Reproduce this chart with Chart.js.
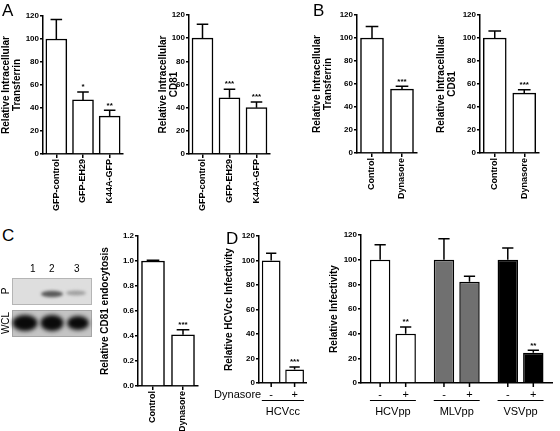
<!DOCTYPE html>
<html><head><meta charset="utf-8">
<script src="https://cdn.jsdelivr.net/npm/chart.js@4/dist/chart.umd.min.js"></script>
<style>
html,body{margin:0;padding:0;background:#fff;}
#wrap{position:relative;width:560px;height:431px;overflow:hidden;background:#fff;font-family:'Liberation Sans',Arial,sans-serif;color:#000;}
canvas{position:absolute;}
.t{position:absolute;line-height:1;white-space:nowrap;}
.r{position:absolute;line-height:1;white-space:nowrap;transform:translate(-50%,-50%) rotate(-90deg);}
</style></head><body><div id="wrap">
<canvas id="blot" style="left:0;top:255px" width="100" height="90"></canvas>
<canvas id="cA1"></canvas><canvas id="cA2"></canvas>
<canvas id="cB1"></canvas><canvas id="cB2"></canvas>
<canvas id="cC"></canvas><canvas id="cD1"></canvas><canvas id="cD2"></canvas>
<div class="t" style="left:2px;top:2px;font-size:17px">A</div>
<div class="t" style="left:313px;top:2px;font-size:17px">B</div>
<div class="t" style="left:2px;top:227px;font-size:17px">C</div>
<div class="t" style="left:226px;top:230px;font-size:17px">D</div>
<div class="t" style="left:30px;top:264px;font-size:10px">1</div>
<div class="t" style="left:49px;top:264px;font-size:10px">2</div>
<div class="t" style="left:74px;top:264px;font-size:10px">3</div>
<div class="r" style="left:6px;top:291px;font-size:10px">P</div>
<div class="r" style="left:6px;top:323px;font-size:10px">WCL</div>
</div>
<script>
// ---------- data ----------
const catsA = ['GFP-control', 'GFP-EH29', 'K44A-GFP'];
const transferrinA = [100, 47, 33];
const transferrinA_sem = [17, 7, 5];
const transferrinA_sig = ['', '*', '**'];
const cd81A = [100, 48.5, 40];
const cd81A_sem = [12, 7.5, 5];
const cd81A_sig = ['', '***', '***'];

const catsB = ['Control', 'Dynasore'];
const transferrinB = [100, 55.5];
const transferrinB_sem = [10, 2.5];
const cd81B = [100, 52];
const cd81B_sem = [6, 3];
const sigB = ['', '***'];

const catsC = ['Control', 'Dynasore'];
const endoC = [1.0, 0.41];
const endoC_sem = [0.006, 0.04];
const sigC = ['', '***'];

const groupsD1 = ['HCVcc'];
const hcvccMinus = [100];
const hcvccMinus_sem = [6];
const hcvccPlus = [11];
const hcvccPlus_sem = [2];
const hcvccPlus_sig = ['***'];

const groupsD2 = ['HCVpp', 'MLVpp', 'VSVpp'];
const ppMinus = [100, 100, 100];
const ppMinus_sem = [12, 17, 9.5];
const ppPlus = [40, 82, 24.5];
const ppPlus_sem = [5.5, 4.5, 2];
const ppPlus_sig = ['**', '', '**'];

const yTicks120 = [0, 20, 40, 60, 80, 100, 120];
const yTicksC = [0, 0.2, 0.4, 0.6, 0.8, 1.0, 1.2];

// ---------- style ----------
const FONT = "'Liberation Sans', Arial, sans-serif";
const BLACK = '#000';

const errPlugin = {
  id: 'errbars',
  afterDatasetsDraw(chart) {
    const ctx = chart.ctx, ys = chart.scales.y;
    chart.data.datasets.forEach((ds, d) => {
      chart.getDatasetMeta(d).data.forEach((bar, i) => {
        const v = ds.data[i], e = ds.sem ? ds.sem[i] : 0;
        const yTop = ys.getPixelForValue(v), yE = ys.getPixelForValue(v + e);
        const cap = bar.width * 0.55;
        ctx.save();
        ctx.strokeStyle = BLACK; ctx.lineWidth = 1.5;
        ctx.beginPath();
        ctx.moveTo(bar.x, yTop); ctx.lineTo(bar.x, yE);
        ctx.moveTo(bar.x - cap / 2, yE); ctx.lineTo(bar.x + cap / 2, yE);
        ctx.stroke();
        const s = ds.sig ? ds.sig[i] : '';
        if (s) {
          ctx.fillStyle = BLACK; ctx.font = 'bold 8px ' + FONT;
          ctx.textAlign = 'center'; ctx.textBaseline = 'bottom';
          ctx.fillText(s, bar.x, yE - 1);
        }
        ctx.restore();
      });
    });
  }
};

const groupPlugin = {
  id: 'groupdeco',
  afterDraw(chart, args, opts) {
    if (!opts || !opts.on) return;
    const ctx = chart.ctx, xs = chart.scales.x, y0 = xs.top;
    ctx.save();
    ctx.strokeStyle = BLACK; ctx.fillStyle = BLACK;
    const metas = chart.data.datasets.map((ds, d) => chart.getDatasetMeta(d).data);
    chart.data.datasets.forEach((ds, d) => {
      metas[d].forEach(bar => {
        ctx.lineWidth = 1.5;
        ctx.beginPath(); ctx.moveTo(bar.x, y0); ctx.lineTo(bar.x, y0 + 4); ctx.stroke();
        ctx.font = '11px ' + FONT; ctx.textAlign = 'center'; ctx.textBaseline = 'middle';
        ctx.fillText(ds.label, bar.x, y0 + opts.signY);
      });
    });
    const first = metas[0], last = metas[metas.length - 1];
    first.forEach((b, i) => {
      const e = last[i];
      ctx.lineWidth = 1;
      ctx.beginPath();
      ctx.moveTo(b.x - b.width / 2, y0 + opts.lineY + 0.5);
      ctx.lineTo(e.x + e.width / 2, y0 + opts.lineY + 0.5);
      ctx.stroke();
    });
    if (opts.rowLabel) {
      ctx.font = '11px ' + FONT; ctx.textAlign = 'right'; ctx.textBaseline = 'middle';
      ctx.fillText(opts.rowLabel, first[0].x - 10, y0 + opts.signY);
    }
    ctx.restore();
  }
};

function place(id, g) {
  const c = document.getElementById(id);
  const cl = g.sl - g.padL, ct = g.T - 8;
  c.style.left = cl + 'px'; c.style.top = ct + 'px';
  c.width = g.R - cl + g.padR; c.height = g.bottom - ct;
  return {c, padding: {left: g.padL, top: 8, right: g.padR, bottom: 0}, yW: g.L - g.sl, xH: g.bottom - g.B};
}

function yScale(p, max, ticks, title, fmt) {
  return {
    min: 0, max: max,
    afterBuildTicks: s => { s.ticks = ticks.map(v => ({value: v})); },
    ticks: {color: BLACK, font: {family: FONT, size: 8, weight: 'bold'}, padding: 1,
            callback: fmt || (v => String(v))},
    grid: {drawOnChartArea: false, color: BLACK, lineWidth: 1.5, tickLength: 3},
    border: {color: BLACK, width: 1.5},
    title: {display: true, text: title, color: BLACK, padding: 0,
            font: {family: FONT, size: 10, weight: 'bold', lineHeight: 1.15}},
    afterFit: s => { s.width = p.yW; }
  };
}

function catChart(id, g, cats, vals, sem, sig, max, ticks, title, barW, fmt) {
  const p = place(id, g);
  return new Chart(p.c, {
    type: 'bar',
    data: {labels: cats, datasets: [{data: vals, sem: sem, sig: sig,
      backgroundColor: '#fff', borderColor: BLACK, borderWidth: 1.5, barThickness: barW}]},
    options: {
      responsive: false, animation: false, devicePixelRatio: 1,
      layout: {padding: p.padding},
      plugins: {legend: {display: false}, tooltip: {enabled: false}},
      scales: {
        x: {
          ticks: {color: BLACK, font: {family: FONT, size: 9, weight: 'bold'}, minRotation: 90, maxRotation: 90, padding: 1, autoSkip: false},
          grid: {drawOnChartArea: false, offset: false, color: BLACK, lineWidth: 1.5, tickLength: 4},
          border: {color: BLACK, width: 1.5},
          afterFit: s => { s.height = p.xH; }
        },
        y: yScale(p, max, ticks, title, fmt)
      }
    },
    plugins: [errPlugin]
  });
}

function groupChart(id, g, groups, minus, minusSem, minusSig, plus, plusSem, plusSig, colors, title, catPct, rowLabel) {
  const p = place(id, g);
  const common = {borderColor: BLACK, borderWidth: 1.5, backgroundColor: colors, barPercentage: 0.8, categoryPercentage: catPct};
  return new Chart(p.c, {
    type: 'bar',
    data: {labels: groups, datasets: [
      Object.assign({label: '-', data: minus, sem: minusSem, sig: minusSig}, common),
      Object.assign({label: '+', data: plus, sem: plusSem, sig: plusSig}, common)
    ]},
    options: {
      responsive: false, animation: false, devicePixelRatio: 1,
      layout: {padding: p.padding},
      plugins: {legend: {display: false}, tooltip: {enabled: false},
                groupdeco: {on: true, signY: 12, lineY: 17, rowLabel: rowLabel}},
      scales: {
        x: {
          ticks: {color: BLACK, font: {family: FONT, size: 11}, padding: 22, autoSkip: false, maxRotation: 0},
          grid: {display: false, drawTicks: false},
          border: {color: BLACK, width: 1.5},
          afterFit: s => { s.height = p.xH; }
        },
        y: yScale(p, 120, yTicks120, title)
      }
    },
    plugins: [errPlugin, groupPlugin]
  });
}

catChart('cA1', {L: 43, R: 123, T: 16, B: 154, sl: 0, padL: 0, padR: 3, bottom: 218},
  catsA, transferrinA, transferrinA_sem, transferrinA_sig, 120, yTicks120,
  ['Relative Intracellular', 'Transferrin'], 21);
catChart('cA2', {L: 189, R: 270, T: 15, B: 154, sl: 157, padL: 0, padR: 3, bottom: 218},
  catsA, cd81A, cd81A_sem, cd81A_sig, 120, yTicks120,
  ['Relative Intracellular', 'CD81'], 21);
catChart('cB1', {L: 357, R: 417, T: 15, B: 153, sl: 311, padL: 0, padR: 3, bottom: 218},
  catsB, transferrinB, transferrinB_sem, sigB, 120, yTicks120,
  ['Relative Intracellular', 'Transferrin'], 23);
catChart('cB2', {L: 480, R: 539, T: 15, B: 153, sl: 435, padL: 0, padR: 3, bottom: 218},
  catsB, cd81B, cd81B_sem, sigB, 120, yTicks120,
  ['Relative Intracellular', 'CD81'], 23);
catChart('cC', {L: 138, R: 198, T: 236, B: 386, sl: 99, padL: 0, padR: 3, bottom: 431},
  catsC, endoC, endoC_sem, sigC, 1.2, yTicksC,
  'Relative CD81 endocytosis', 23, v => v.toFixed(1));
groupChart('cD1', {L: 259, R: 320, T: 236, B: 383, sl: 223, padL: 12, padR: 4, bottom: 431},
  groupsD1, hcvccMinus, hcvccMinus_sem, [''], hcvccPlus, hcvccPlus_sem, hcvccPlus_sig,
  ['#fff'], 'Relative HCVcc Infectivity', 0.98, 'Dynasore');
groupChart('cD2', {L: 361, R: 558, T: 235, B: 383, sl: 328, padL: 0, padR: 2, bottom: 431},
  groupsD2, ppMinus, ppMinus_sem, ['', '', ''], ppPlus, ppPlus_sem, ppPlus_sig,
  ['#fff', '#707070', '#000'], 'Relative Infectivity', 0.8);

// ---------- western blot picture (panel C) ----------
(function () {
  const b = document.getElementById('blot').getContext('2d');
  const oy = -255;
  b.fillStyle = '#dedede'; b.fillRect(12, 278 + oy, 80, 27);
  b.strokeStyle = '#b5b5b5'; b.lineWidth = 1; b.strokeRect(12.5, 278.5 + oy, 79, 26);
  b.filter = 'blur(1.5px)';
  b.fillStyle = '#5a5a5a'; b.beginPath(); b.ellipse(52, 294 + oy, 11, 3.2, 0, 0, Math.PI * 2); b.fill();
  b.fillStyle = '#a0a0a0'; b.beginPath(); b.ellipse(76, 293 + oy, 10, 2.6, 0, 0, Math.PI * 2); b.fill();
  b.filter = 'none';
  b.fillStyle = '#c4c4c4'; b.fillRect(12, 310 + oy, 80, 27);
  b.strokeStyle = '#a5a5a5'; b.strokeRect(12.5, 310.5 + oy, 79, 26);
  b.filter = 'blur(2px)';
  b.fillStyle = '#0a0a0a';
  [[25, 12.5, 8], [52, 11.5, 8], [78, 11, 7]].forEach(([x, rx, ry]) => {
    b.beginPath(); b.ellipse(x, 323 + oy, rx, ry, 0, 0, Math.PI * 2); b.fill();
  });
  b.filter = 'none';
})();
</script>
</body></html>
